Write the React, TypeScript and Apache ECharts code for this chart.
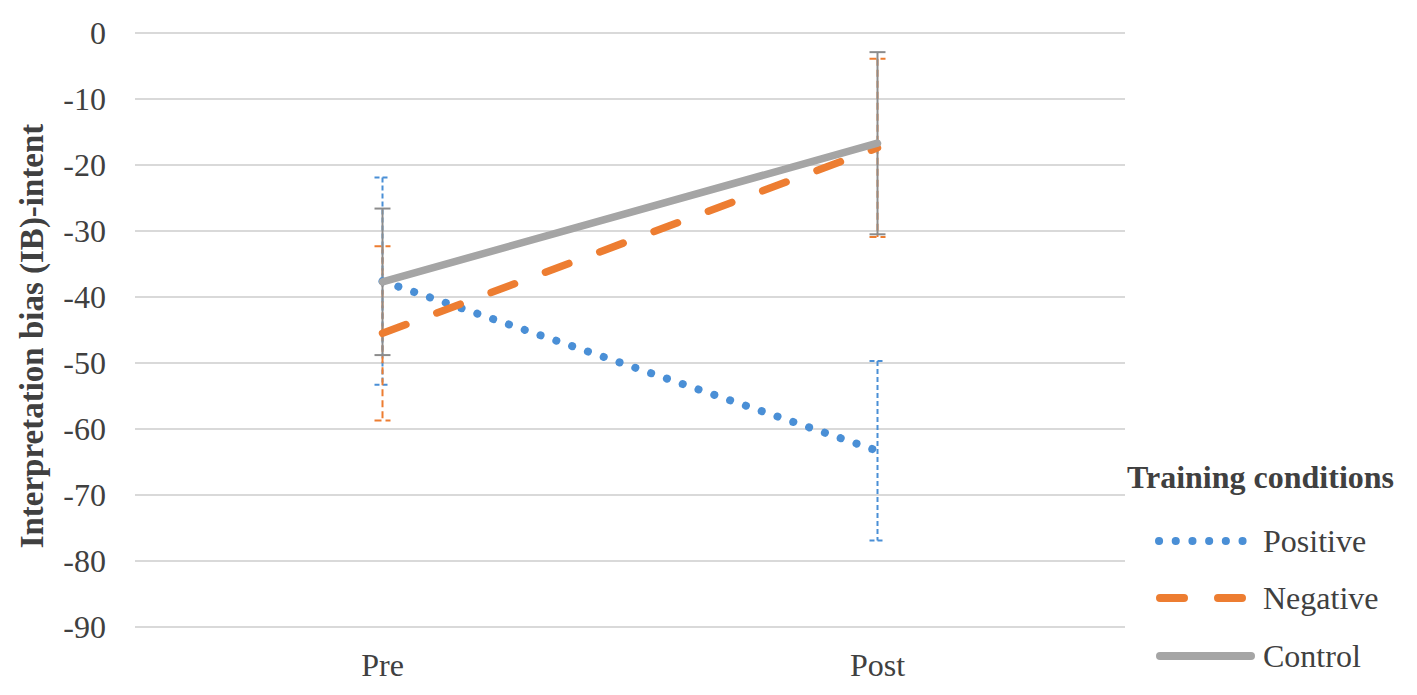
import React, { useEffect, useRef } from "react";
import * as echarts from "echarts";

const categories = ["Pre", "Post"];
const positiveMean = [-37.6, -63.3];
const positiveErr = [15.7, 13.6];
const negativeMean = [-45.5, -17.4];
const negativeErr = [13.2, 13.5];
const controlMean = [-37.7, -16.7];
const controlErr = [11.1, 13.8];
const yTicks = { min: -90, max: 0, interval: 10 };
const legendNames = ["Positive", "Negative", "Control"];
const legendTitle = "Training conditions";

const FONT = "'Times New Roman', 'Liberation Serif', Tinos, serif";
const BLUE = "#4a8fd6";
const ORANGE = "#ed7d31";
const GRAY = "#a5a5a5";
const TEXT = "#404040";

function errorSeries(name: string, means: number[], errs: number[], color: string, dash: number[] | null) {
  return {
    type: "custom",
    name,
    z: 1,
    data: means.map((m, i) => [i, m, errs[i]]),
    renderItem: (params: any, api: any) => {
      const x = api.value(0);
      const m = api.value(1);
      const e = api.value(2);
      const top = api.coord([x, m + e]);
      const bot = api.coord([x, m - e]);
      const hw = 8;
      const style: any = { stroke: color, lineWidth: 2, fill: null };
      if (dash) style.lineDash = dash;
      return {
        type: "group",
        children: [
          { type: "line", shape: { x1: top[0], y1: top[1], x2: bot[0], y2: bot[1] }, style },
          { type: "line", shape: { x1: top[0] - hw, y1: top[1], x2: top[0] + hw, y2: top[1] }, style },
          { type: "line", shape: { x1: bot[0] - hw, y1: bot[1], x2: bot[0] + hw, y2: bot[1] }, style },
        ],
      };
    },
  };
}

export default function App() {
  const ref = useRef<HTMLDivElement>(null);
  useEffect(() => {
    document.body.style.margin = "0";
    const chart = echarts.init(ref.current!, null, { renderer: "svg" });
    const legendStyles = [
      { color: BLUE, x1: 1159, x2: 1243, dash: [0.1, 16.6] as number[] | null },
      { color: ORANGE, x1: 1160, x2: 1242, dash: [24, 34] as number[] | null },
      { color: GRAY, x1: 1160, x2: 1251, dash: null as number[] | null },
    ];
    const legendYs = [541, 598, 656];
    const legendGraphics: any[] = [
      {
        type: "text",
        x: 1127,
        y: 477,
        style: {
          text: legendTitle,
          fontFamily: FONT,
          fontSize: 32,
          fontWeight: "bold",
          fill: TEXT,
          verticalAlign: "middle",
          align: "left",
        },
      },
    ];
    legendNames.forEach((n, i) => {
      const s = legendStyles[i];
      const style: any = { stroke: s.color, lineWidth: 8, lineCap: "round" };
      if (s.dash) style.lineDash = s.dash;
      legendGraphics.push({
        type: "line",
        shape: { x1: s.x1, y1: legendYs[i], x2: s.x2, y2: legendYs[i] },
        style,
      });
      legendGraphics.push({
        type: "text",
        x: 1263,
        y: legendYs[i],
        style: { text: n, fontFamily: FONT, fontSize: 32, fill: TEXT, verticalAlign: "middle", align: "left" },
      });
    });
    chart.setOption({
      animation: false,
      backgroundColor: "#ffffff",
      textStyle: { fontFamily: FONT },
      grid: { left: 135, right: 292, top: 33, bottom: 68 },
      graphic: legendGraphics,
      xAxis: {
        type: "category",
        data: categories,
        boundaryGap: true,
        axisLine: { show: false },
        axisTick: { show: false },
        axisLabel: { fontFamily: FONT, fontSize: 32, color: TEXT, margin: 22 },
      },
      yAxis: {
        type: "value",
        min: yTicks.min,
        max: yTicks.max,
        interval: yTicks.interval,
        axisLine: { show: false },
        axisTick: { show: false },
        splitLine: { lineStyle: { color: "#d9d9d9", width: 2 } },
        axisLabel: { fontFamily: FONT, fontSize: 32, color: TEXT, margin: 29 },
        name: "Interpretation bias (IB)-intent",
        nameLocation: "middle",
        nameRotate: 90,
        nameGap: 87,
        nameTextStyle: {
          fontFamily: FONT,
          fontSize: 33,
          fontWeight: "bold",
          color: TEXT,
          padding: [0, 12, 0, 0],
        },
      },
      series: [
        errorSeries("Positive SE", positiveMean, positiveErr, BLUE, [5, 3]),
        errorSeries("Negative SE", negativeMean, negativeErr, ORANGE, [7, 4]),
        errorSeries("Control SE", controlMean, controlErr, "#8c8c8c", null),
        {
          type: "line",
          name: "Positive",
          data: positiveMean,
          symbol: "none",
          z: 3,
          color: BLUE,
          lineStyle: { color: BLUE, width: 8, type: [0.1, 16.6], cap: "round" },
        },
        {
          type: "line",
          name: "Negative",
          data: negativeMean,
          symbol: "none",
          z: 4,
          color: ORANGE,
          lineStyle: { color: ORANGE, width: 7.5, type: [25, 33], cap: "round" },
        },
        {
          type: "line",
          name: "Control",
          data: controlMean,
          symbol: "none",
          z: 5,
          color: GRAY,
          lineStyle: { color: GRAY, width: 7.5, cap: "round" },
        },
      ],
    });
    return () => chart.dispose();
  }, []);
  return <div ref={ref} style={{ width: 1417, height: 695 }} />;
}
